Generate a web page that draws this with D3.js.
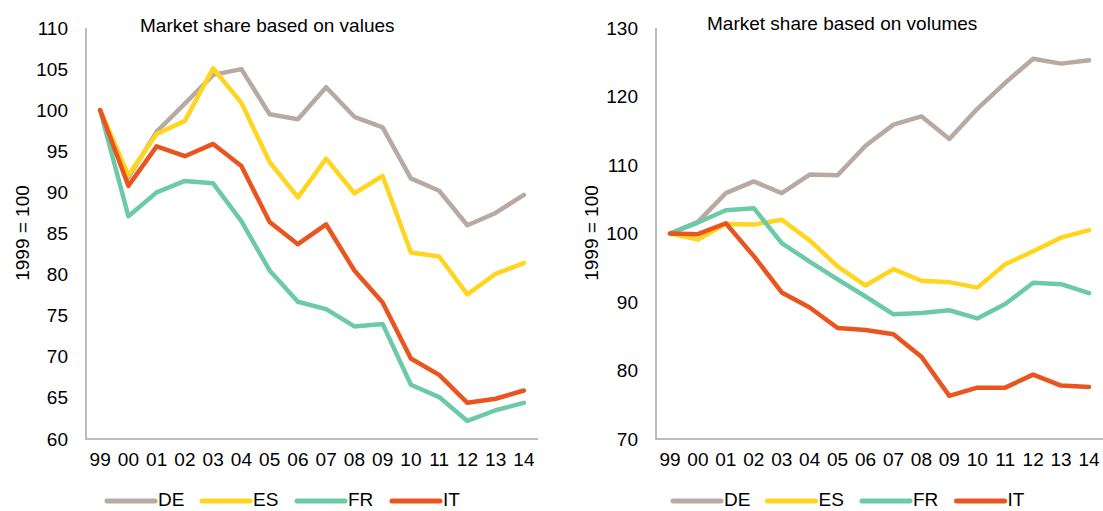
<!DOCTYPE html>
<html>
<head>
<meta charset="utf-8">
<script src="https://cdn.jsdelivr.net/npm/d3@7"></script>
<style>
  body { margin: 0; background: #fff; }
  svg { display: block; font-family: "Liberation Sans", Arial, sans-serif; }
</style>
</head>
<body>
<svg width="1103" height="511"></svg>
<script>
// years on the x axis
const years = ['99','00','01','02','03','04','05','06','07','08','09','10','11','12','13','14']
const countries = ['DE','ES','FR','IT']
const colors = ['#b8aaa2','#ffd520','#6dcaa8','#e9541f']

// market share based on values (1999 = 100)
const valDE = [100, 91.8, 97.4, 100.8, 104.3, 105.0, 99.5, 98.9, 102.8, 99.2, 97.9, 91.7, 90.2, 86.0, 87.5, 89.7]
const valES = [100, 92.1, 97.1, 98.7, 105.1, 100.9, 93.7, 89.4, 94.1, 89.9, 92.0, 82.7, 82.2, 77.6, 80.1, 81.4]
const valFR = [100, 87.1, 90.0, 91.4, 91.1, 86.5, 80.5, 76.7, 75.8, 73.7, 74.0, 66.6, 65.1, 62.2, 63.5, 64.4]
const valIT = [100, 90.8, 95.6, 94.4, 95.9, 93.2, 86.4, 83.7, 86.1, 80.5, 76.6, 69.8, 67.8, 64.4, 64.9, 65.9]

// market share based on volumes (1999 = 100)
const volDE = [100, 101.7, 105.9, 107.6, 105.9, 108.6, 108.5, 112.8, 115.9, 117.1, 113.8, 118.2, 122.0, 125.5, 124.8, 125.3]
const volES = [100, 99.1, 101.4, 101.3, 102.0, 99.0, 95.2, 92.4, 94.8, 93.1, 92.9, 92.1, 95.5, 97.4, 99.4, 100.5]
const volFR = [100, 101.6, 103.4, 103.7, 98.6, 95.9, 93.3, 90.8, 88.2, 88.4, 88.8, 87.6, 89.7, 92.8, 92.6, 91.3]
const volIT = [100, 99.9, 101.5, 96.7, 91.4, 89.2, 86.2, 85.9, 85.3, 82.0, 76.3, 77.5, 77.5, 79.4, 77.8, 77.6]

const valTicks = [60, 65, 70, 75, 80, 85, 90, 95, 100, 105, 110]
const volTicks = [70, 80, 90, 100, 110, 120, 130]

const fs = 19
const svg = d3.select('svg')

function drawPanel(opt) {
  const x = d3.scaleBand().domain(years).range([opt.left, opt.right])
  const y = d3.scaleLinear().domain(opt.domain).range([439, 28])
  const g = svg.append('g')

  // y tick labels, no tick marks
  g.append('g').attr('transform', `translate(${opt.left},0)`)
    .call(d3.axisLeft(y).tickValues(opt.ticks).tickSize(0).tickPadding(18))
    .call(a => a.select('.domain').remove())
    .selectAll('text').attr('font-size', fs).attr('fill', '#000').attr('font-family', null)

  // x tick labels
  g.append('g').attr('transform', 'translate(0,439)')
    .call(d3.axisBottom(x).tickSize(0).tickPadding(14))
    .call(a => a.select('.domain').remove())
    .selectAll('text').attr('font-size', fs).attr('fill', '#000').attr('font-family', null)

  // L shaped axis frame
  g.append('path')
    .attr('d', `M${opt.left},28V439H${opt.right}`)
    .attr('fill', 'none').attr('stroke', '#a6a6a6').attr('stroke-width', 1.5)

  const line = d3.line()
    .x((d, i) => x(years[i]) + x.bandwidth() / 2)
    .y(d => y(d))

  opt.series.forEach((s, i) => {
    g.append('path').datum(s)
      .attr('d', line)
      .attr('fill', 'none')
      .attr('stroke', colors[i])
      .attr('stroke-width', 4.5)
      .attr('stroke-linejoin', 'round')
      .attr('stroke-linecap', 'round')
  })

  g.append('text').attr('x', opt.titleX).attr('y', opt.titleY)
    .attr('font-size', fs).text(opt.title)

  g.append('text')
    .attr('transform', `translate(${opt.labelX},233) rotate(-90)`)
    .attr('text-anchor', 'middle').attr('dy', '0.35em')
    .attr('font-size', fs).text('1999 = 100')

  // legend
  countries.forEach((c, i) => {
    const lx = opt.legendX + i * opt.legendStep
    g.append('line').attr('x1', lx).attr('x2', lx + 48).attr('y1', 501).attr('y2', 501)
      .attr('stroke', colors[i]).attr('stroke-width', 5).attr('stroke-linecap', 'round')
    g.append('text').attr('x', lx + 51).attr('y', 506).attr('font-size', fs).text(c)
  })
}

drawPanel({
  left: 86, right: 538, domain: [60, 110], ticks: valTicks,
  series: [valDE, valES, valFR, valIT],
  title: 'Market share based on values', titleX: 140, titleY: 32,
  labelX: 22, legendX: 107, legendStep: 95
})

drawPanel({
  left: 656, right: 1103, domain: [70, 130], ticks: volTicks,
  series: [volDE, volES, volFR, volIT],
  title: 'Market share based on volumes', titleX: 707, titleY: 30,
  labelX: 591, legendX: 673, legendStep: 94.5
})
</script>
</body>
</html>
